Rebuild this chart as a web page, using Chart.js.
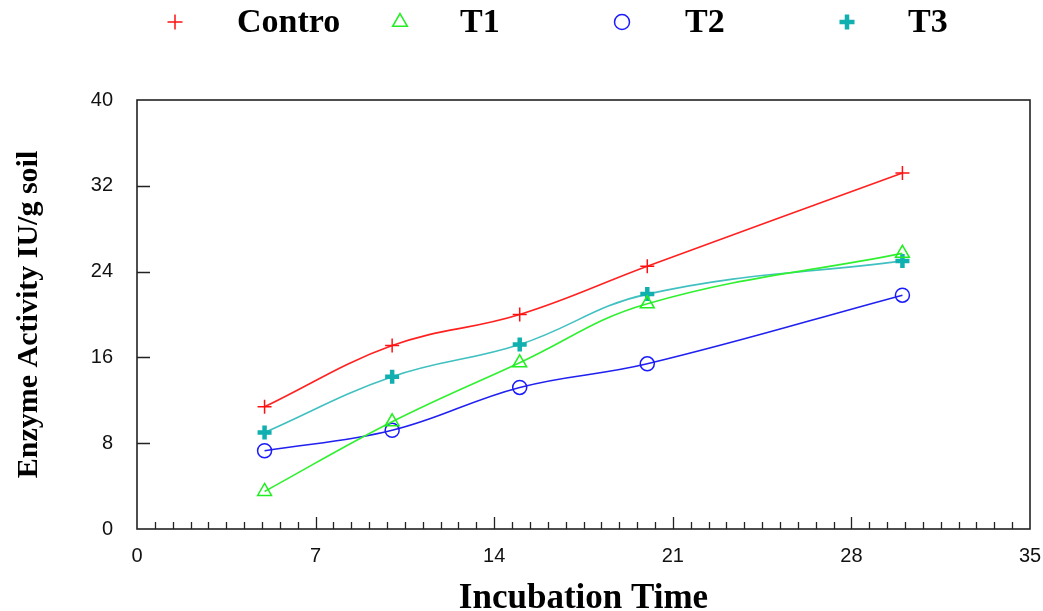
<!DOCTYPE html>
<html>
<head>
<meta charset="utf-8">
<script src="https://cdn.jsdelivr.net/npm/chart.js@4/dist/chart.umd.min.js"></script>
<style>
  html, body { margin: 0; padding: 0; background: #ffffff; }
  #wrap { width: 1043px; height: 611px; position: relative; }
</style>
</head>
<body>
<div id="wrap"><canvas id="c" width="1043" height="611"></canvas></div>
<script>
// ---- data ----
const days = [5, 10, 15, 20, 30];
const controlValues = [11.4, 17.1, 20.0, 24.5, 33.2];
const t1Values = [3.5, 10.0, 15.5, 21.0, 25.7];
const t2Values = [7.3, 9.2, 13.2, 15.4, 21.8];
const t3Values = [9.0, 14.2, 17.2, 21.9, 25.0];
const seriesNames = ['Contro', 'T1', 'T2', 'T3'];
const xTickValues = [0, 7, 14, 21, 28, 35];
const yTickValues = [0, 8, 16, 24, 32, 40];

const toPoints = (vals) => days.map((d, i) => ({ x: d, y: vals[i] }));

const serif = "'Liberation Serif', 'Times New Roman', serif";
const sans = "'Liberation Sans', Arial, sans-serif";

const styles = [
  { line: '#ff2020', point: '#ff1010', style: 'cross', r: 7, bw: 1.5 },
  { line: '#30f030', point: '#20ee20', style: 'triangle', r: 8, bw: 1.5 },
  { line: '#2020f0', point: '#1a1aff', style: 'circle', r: 7, bw: 1.5 },
  { line: '#40c0c0', point: '#10b0b0', style: 'cross', r: 7, bw: 4.5 }
];
const allValues = [controlValues, t1Values, t2Values, t3Values];

const datasets = allValues.map((vals, i) => ({
  label: seriesNames[i],
  data: toPoints(vals),
  borderColor: styles[i].line,
  borderWidth: 1.6,
  backgroundColor: 'rgba(0,0,0,0)',
  pointStyle: styles[i].style,
  pointRadius: styles[i].r,
  pointBorderColor: styles[i].point,
  pointBackgroundColor: 'rgba(0,0,0,0)',
  pointBorderWidth: styles[i].bw,
  tension: 0.4,
  fill: false
}));

// custom legend + frame + inward ticks
const decor = {
  id: 'decor',
  afterDraw(chart) {
    const ctx = chart.ctx;
    const a = chart.chartArea;
    const xs = chart.scales.x, ys = chart.scales.y;
    ctx.save();
    ctx.strokeStyle = '#222';
    ctx.lineWidth = 1.6;
    ctx.strokeRect(a.left, a.top, a.right - a.left, a.bottom - a.top);
    ctx.lineWidth = 1.3;
    ctx.beginPath();
    yTickValues.slice(1, -1).forEach(v => {
      const py = Math.round(ys.getPixelForValue(v)) + 0.5;
      ctx.moveTo(a.left, py); ctx.lineTo(a.left + 13, py);
    });
    const step = xTickValues[1] - xTickValues[0];
    const n = Math.round((xTickValues[xTickValues.length - 1] - xTickValues[0]) / step) * 10;
    for (let i = 1; i < n; i++) {
      const v = xTickValues[0] + i * step / 10;
      const px = Math.round(xs.getPixelForValue(v)) + 0.5;
      const len = (i % 10 === 0) ? 12 : 7;
      ctx.moveTo(px, a.bottom); ctx.lineTo(px, a.bottom - len);
    }
    ctx.stroke();

    // legend
    const markerX = [175, 400, 622, 847];
    const textX = [237, 460, 685, 908];
    const ly = 22;
    chart.data.datasets.forEach((ds, i) => {
      ctx.strokeStyle = ds.pointBorderColor;
      ctx.fillStyle = 'rgba(0,0,0,0)';
      ctx.lineWidth = ds.pointBorderWidth;
      Chart.helpers.drawPoint(ctx, { pointStyle: ds.pointStyle, radius: ds.pointRadius + 0.5, borderWidth: ds.pointBorderWidth, rotation: 0 }, markerX[i], ly);
      ctx.fillStyle = '#000';
      ctx.font = "bold 34px " + serif;
      ctx.textBaseline = 'middle';
      ctx.textAlign = 'left';
      ctx.fillText(ds.label, textX[i], ly + 1);
    });
    ctx.restore();
  }
};

new Chart(document.getElementById('c'), {
  type: 'line',
  data: { datasets },
  plugins: [decor],
  options: {
    responsive: false,
    animation: false,
    devicePixelRatio: 1,
    layout: { padding: { top: 100, right: 13, left: 0, bottom: 0 } },
    plugins: { legend: { display: false }, tooltip: { enabled: false } },
    scales: {
      x: {
        type: 'linear',
        min: 0, max: 35,
        afterFit: (s) => { s.height = 82; s.paddingLeft = 0; s.paddingRight = 0; },
        afterBuildTicks: (s) => { s.ticks = xTickValues.map(v => ({ value: v })); },
        grid: { display: false, drawTicks: false },
        border: { display: false },
        ticks: { color: '#111', font: { family: sans, size: 20 }, padding: 15, maxRotation: 0 },
        title: { display: true, text: 'Incubation Time', color: '#000',
                 font: { family: serif, size: 35, weight: 'bold', lineHeight: 0.7 }, padding: { top: 0, bottom: 0 } }
      },
      y: {
        type: 'linear',
        min: 0, max: 40,
        afterFit: (s) => { s.width = 137; s.paddingTop = 0; s.paddingBottom = 0; },
        afterBuildTicks: (s) => { s.ticks = yTickValues.map(v => ({ value: v })); },
        grid: { display: false, drawTicks: false },
        border: { display: false },
        ticks: { color: '#111', font: { family: sans, size: 20 }, padding: 24 },
        title: { display: true, text: 'Enzyme Activity IU/g soil', color: '#000',
                 font: { family: serif, size: 30, weight: 'bold', lineHeight: 1.2 }, padding: { top: 11, bottom: 0 } }
      }
    }
  }
});
</script>
</body>
</html>
